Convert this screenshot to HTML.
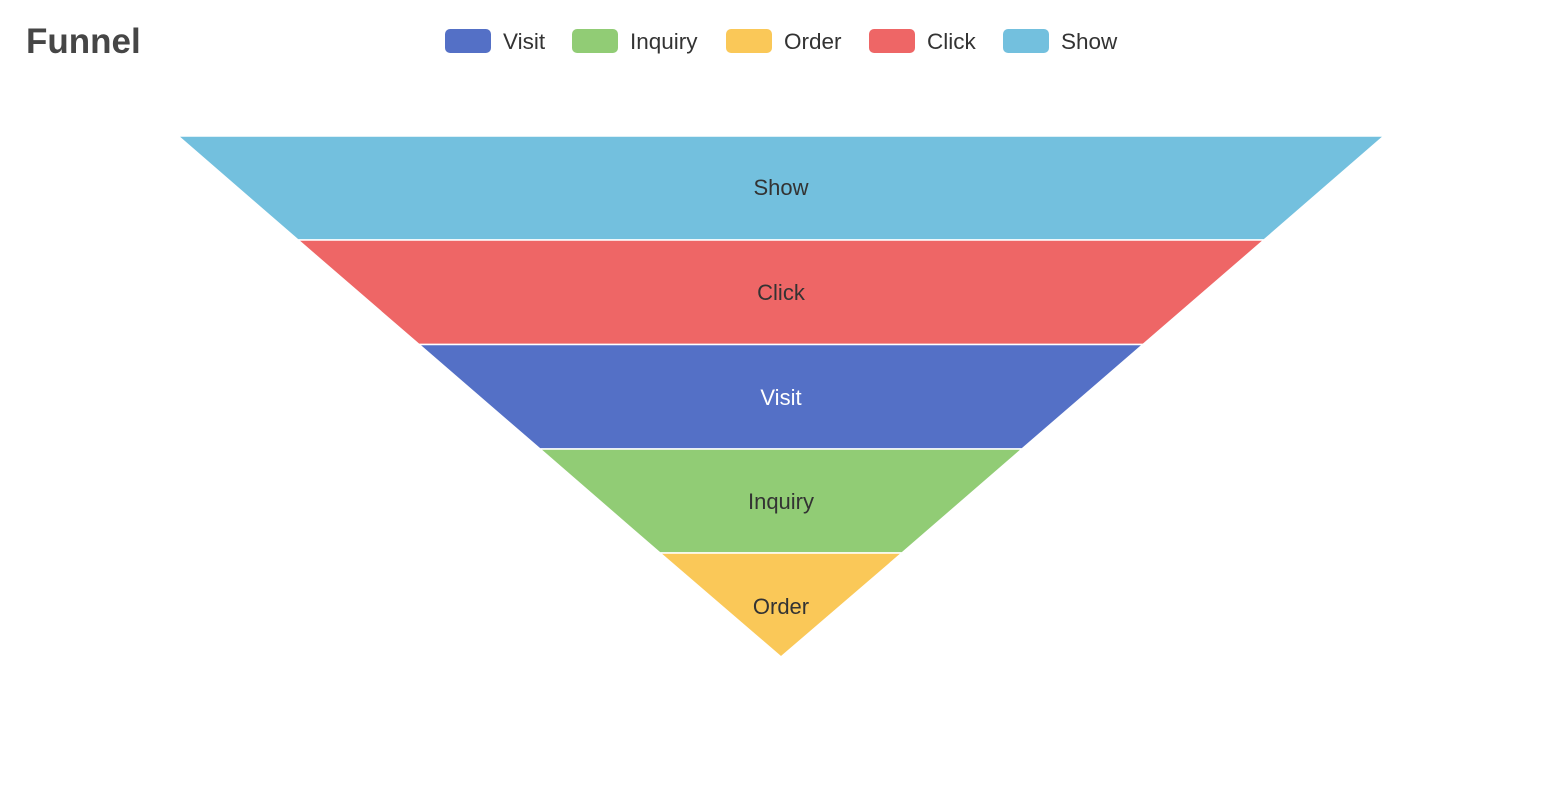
<!DOCTYPE html>
<html><head><meta charset="utf-8"><style>
body{margin:0;background:#fff;}
svg{display:block;font-family:"Liberation Sans",sans-serif;}
</style></head><body>
<svg width="1560" height="794" viewBox="0 0 1560 794">
<text x="26" y="53" font-size="35" font-weight="bold" fill="#464646">Funnel</text>
<g font-size="22.5" fill="#333">
<rect x="445" y="29" width="46" height="24" rx="5" fill="#5470c6"/><text x="503" y="49">Visit</text>
<rect x="572" y="29" width="46" height="24" rx="5" fill="#91cc75"/><text x="630" y="49">Inquiry</text>
<rect x="726" y="29" width="46" height="24" rx="5" fill="#fac858"/><text x="784" y="49">Order</text>
<rect x="869" y="29" width="46" height="24" rx="5" fill="#ee6666"/><text x="927" y="49">Click</text>
<rect x="1003" y="29" width="46" height="24" rx="5" fill="#73c0de"/><text x="1061" y="49">Show</text>
</g>
<g stroke="#fff" stroke-width="1.5" stroke-linejoin="round">
<polygon points="178,136 1384,136 1264,240 298,240" fill="#73c0de"/>
<polygon points="298,240 1264,240 1143,344.5 419,344.5" fill="#ee6666"/>
<polygon points="419,344.5 1143,344.5 1022,449 540,449" fill="#5470c6"/>
<polygon points="540,449 1022,449 902,553 660,553" fill="#91cc75"/>
<polygon points="660,553 902,553 781,657 781,657" fill="#fac858"/>
</g>
<g font-size="22" text-anchor="middle" fill="#333">
<text x="781" y="195">Show</text>
<text x="781" y="300">Click</text>
<text x="781" y="405" fill="#fff">Visit</text>
<text x="781" y="509">Inquiry</text>
<text x="781" y="614">Order</text>
</g>
</svg>
</body></html>
